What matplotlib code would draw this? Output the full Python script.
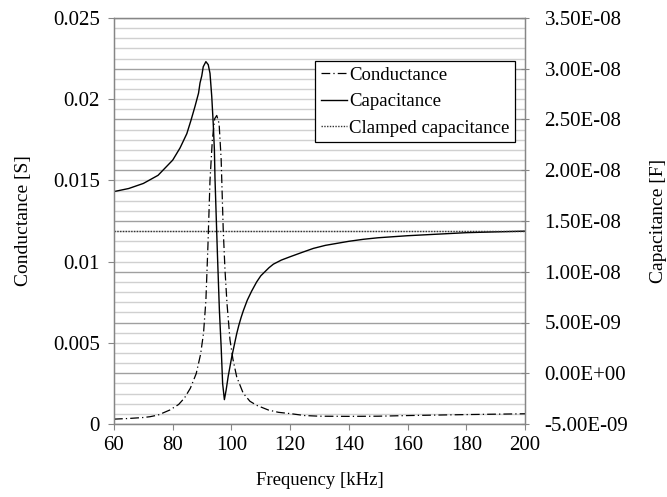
import matplotlib
matplotlib.use("Agg")
import matplotlib.pyplot as plt
from matplotlib.ticker import MultipleLocator, FuncFormatter

plt.rcParams['font.family'] = ['Liberation Serif', 'DejaVu Serif']

# Conductance [S] vs frequency [kHz]
freq_g = [60, 65, 70, 72.3, 75, 79, 82, 84, 86, 88, 89.5, 90.5, 91.3, 92, 92.7,
          93.5, 94.3, 95.0, 95.8, 96.5, 97.2, 97.8, 98.5, 99.5, 100.5, 101.8,
          104, 106.3, 108.6, 112.6, 116, 120, 125, 130, 140, 150, 160, 180, 200]
conductance = [3.0e-4, 3.4e-4, 4.0e-4, 4.5e-4, 5.5e-4, 8.6e-4, 1.2e-3, 1.6e-3,
               2.2e-3, 3.1e-3, 4.3e-3, 5.6e-3, 7.6e-3, 1.1e-2, 1.5e-2, 1.75e-2,
               1.88e-2, 1.90e-2, 1.85e-2, 1.63e-2, 1.2e-2, 9.5e-3, 7.4e-3, 5.2e-3,
               4.0e-3, 2.9e-3, 1.9e-3, 1.4e-3, 1.15e-3, 8.6e-4, 7.2e-4, 6.4e-4,
               5.2e-4, 4.8e-4, 4.7e-4, 4.8e-4, 5.2e-4, 5.8e-4, 6.3e-4]

# Capacitance [F] vs frequency [kHz]
freq_c = [60, 65, 70, 75, 80, 82.5, 84.8, 86.2, 87.6, 88.8, 89.3, 89.9, 90.4,
          91.3, 92.1, 92.7, 93.3, 93.8, 94.2, 94.4, 95.2, 95.9, 96.5, 97.0,
          97.6, 98.2, 98.9, 100.1, 101.8, 102.5, 103.3, 104.1, 105.4, 106.9,
          108.6, 110, 111.4, 112.8, 114.3, 117, 120, 124, 127.9, 132, 140, 145,
          150, 160, 170, 180, 190, 200]
capacitance = [1.79e-8, 1.82e-8, 1.87e-8, 1.95e-8, 2.10e-8, 2.22e-8, 2.36e-8,
               2.49e-8, 2.63e-8, 2.76e-8, 2.86e-8, 2.93e-8, 3.02e-8, 3.07e-8,
               3.04e-8, 2.955e-8, 2.725e-8, 2.46e-8, 2.2e-8, 1.92e-8, 1.2e-8,
               6.2e-9, 2.6e-9, -1.0e-9, -2.6e-9, -1.65e-9, -0.3e-9, 1.6e-9,
               3.9e-9, 4.7e-9, 5.5e-9, 6.2e-9, 7.2e-9, 8.1e-9, 9.0e-9, 9.6e-9,
               1.0e-8, 1.04e-8, 1.075e-8, 1.115e-8, 1.148e-8, 1.19e-8, 1.23e-8,
               1.26e-8, 1.30e-8, 1.32e-8, 1.335e-8, 1.355e-8, 1.37e-8, 1.385e-8,
               1.393e-8, 1.40e-8]

# Clamped capacitance (constant)
freq_clamped = [60, 200]
clamped = [1.40e-8, 1.40e-8]

axis_gray = '#868686'
fs = 13.5
tick_fs = 15

fig = plt.figure(figsize=(6.67, 4.97), dpi=100)
ax1 = fig.add_axes([114 / 667, 1 - 424 / 497, 411 / 667, 406 / 497])
ax2 = ax1.twinx()
ax1.set_zorder(ax2.get_zorder() + 1)
ax1.patch.set_visible(False)

# grid comes from the capacitance axis
ax2.set_ylim(-5e-9, 3.5e-8)
ax2.yaxis.set_major_locator(MultipleLocator(5e-9))
ax2.yaxis.set_minor_locator(MultipleLocator(1e-9))
ax2.grid(True, which='major', axis='both', color='#a0a0a0', linewidth=1.0)
ax2.grid(True, which='minor', axis='y', color='#d0d0d0', linewidth=1.0)
ax2.set_axisbelow(True)

lg, = ax1.plot(freq_g, conductance, color='black', linewidth=0.9,
               linestyle=(0, (7, 2.5, 1, 2.5)), label='Conductance')
lc, = ax2.plot(freq_c, capacitance, color='black', linewidth=1.0,
               label='Capacitance')
lcl, = ax2.plot(freq_clamped, clamped, color='#333333', linewidth=1.0,
                linestyle=(0, (1, 1)), label='Clamped capacitance')

ax1.set_xlim(60, 200)
ax1.xaxis.set_major_locator(MultipleLocator(20))
ax1.set_ylim(0, 0.025)
ax1.yaxis.set_major_locator(MultipleLocator(0.005))
ax1.yaxis.set_major_formatter(FuncFormatter(lambda v, p: '%g' % round(v, 4)))
ax2.yaxis.set_major_formatter(FuncFormatter(lambda v, p: '%.2E' % v))

for ax in (ax1, ax2):
    for s in ax.spines.values():
        s.set_color(axis_gray)
        s.set_linewidth(0.9)

ax1.tick_params(axis='x', direction='out', length=4, color=axis_gray,
                labelsize=tick_fs, pad=5)
ax1.tick_params(axis='y', direction='out', length=4, color=axis_gray,
                labelsize=tick_fs, pad=6)
ax2.tick_params(axis='y', which='major', direction='inout', length=6,
                color=axis_gray, labelsize=tick_fs, pad=11)
ax2.tick_params(axis='y', which='minor', length=0)

ax1.set_xlabel('Frequency [kHz]', fontsize=fs, labelpad=12)
ax1.set_ylabel('Conductance [S]', fontsize=fs + 0.5, labelpad=15)
ax2.set_ylabel('Capacitance [F]', fontsize=fs + 0.5, rotation=90, labelpad=16)

leg = ax1.legend(handles=[lg, lc, lcl], loc='upper right',
                 bbox_to_anchor=(0.976, 0.894), fontsize=fs, frameon=True,
                 fancybox=False, framealpha=1, edgecolor='black',
                 handlelength=1.4, handletextpad=0.1, labelspacing=0.5,
                 borderpad=0.3, borderaxespad=0)
leg.get_frame().set_linewidth(0.9)

fig.savefig('out.png', dpi=100)
